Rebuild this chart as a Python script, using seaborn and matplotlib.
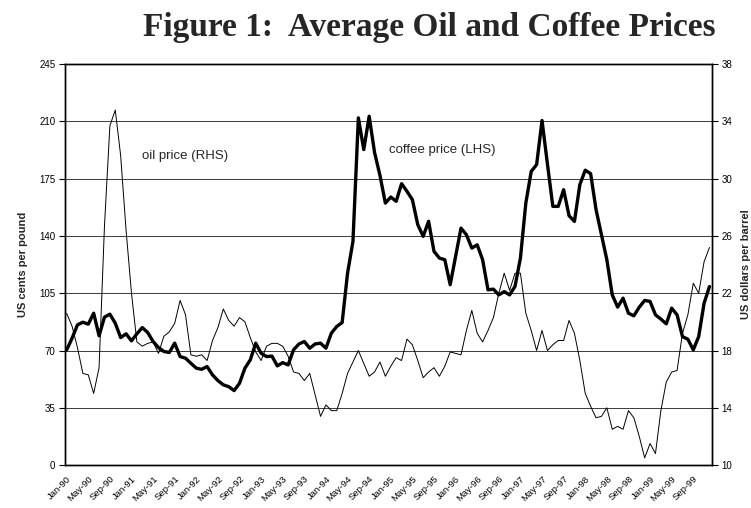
import numpy as np
import pandas as pd
import seaborn as sns
import matplotlib.pyplot as plt


# monthly series, Jan-90 .. Dec-99
months = pd.date_range('1990-01-01', periods=120, freq='MS')

# coffee price, US cents per pound (LHS)
coffee = [
    70.4, 77.5, 85.7, 87.3, 86.1, 92.8, 79.0, 90.4, 92.2, 86.7,
    77.9, 80.2, 75.9, 80.2, 84.0, 81.0, 75.5, 71.8, 69.4, 68.8,
    74.5, 66.3, 65.3, 62.2, 59.2, 58.5, 60.2, 55.1, 51.6, 49.0,
    47.9, 45.5, 50.0, 59.2, 64.3, 74.5, 68.3, 66.3, 66.6, 60.6,
    62.6, 61.2, 70.4, 74.0, 75.5, 71.4, 74.0, 74.5, 71.4, 80.6,
    84.7, 87.1, 117.3, 136.7, 212.2, 192.8, 213.2, 191.0, 177.0, 160.1,
    163.8, 161.2, 172.0, 167.3, 162.2, 146.9, 139.8, 149.0, 130.6, 126.5,
    125.5, 110.2, 127.5, 144.8, 140.8, 132.6, 134.6, 125.5, 107.1, 107.5,
    104.0, 106.0, 104.0, 109.2, 126.5, 160.1, 179.5, 183.6, 210.6, 184.0,
    158.1, 158.1, 168.3, 152.4, 148.9, 171.4, 180.2, 178.1, 156.1, 140.8,
    125.5, 104.0, 96.5, 102.0, 92.8, 91.2, 96.5, 100.6, 100.0, 91.8,
    89.2, 86.3, 95.9, 91.8, 78.5, 76.9, 70.4, 78.5, 98.9, 109.1,
]

# oil price, US dollars per barrel (RHS)
oil = [
    20.6, 19.7, 18.2, 16.4, 16.3, 15.0, 16.8, 26.7, 33.7, 34.8,
    31.6, 26.4, 22.0, 18.6, 18.3, 18.5, 18.6, 17.8, 19.0, 19.3,
    19.9, 21.5, 20.5, 17.7, 17.6, 17.7, 17.3, 18.7, 19.6, 20.9,
    20.1, 19.7, 20.3, 20.0, 18.9, 17.9, 17.3, 18.3, 18.5, 18.5,
    18.3, 17.6, 16.5, 16.4, 15.9, 16.4, 14.9, 13.4, 14.2, 13.8,
    13.8, 15.0, 16.4, 17.2, 18.0, 17.1, 16.2, 16.5, 17.2, 16.2,
    16.9, 17.5, 17.3, 18.8, 18.4, 17.3, 16.1, 16.5, 16.8, 16.2,
    16.9, 17.9, 17.8, 17.7, 19.4, 20.8, 19.2, 18.6, 19.4, 20.3,
    22.0, 23.4, 22.2, 23.4, 23.4, 20.6, 19.4, 18.0, 19.4, 18.0,
    18.4, 18.7, 18.7, 20.1, 19.2, 17.3, 15.0, 14.1, 13.3, 13.4,
    14.0, 12.5, 12.7, 12.5, 13.8, 13.3, 12.0, 10.5, 11.5, 10.8,
    13.8, 15.8, 16.5, 16.6, 19.2, 20.5, 22.7, 22.0, 24.2, 25.2,
]

tick_labels = [m.strftime('%b-%y') for m in months[::4]]

df = pd.DataFrame({'month': np.arange(len(months)), 'coffee': coffee, 'oil': oil})

sns.set_style('white')
plt.rcParams['font.family'] = ['Liberation Sans', 'DejaVu Sans']

fig = plt.figure(figsize=(7.51, 5.08), dpi=100)
ax = fig.add_axes([0.0866, 0.0846, 0.861, 0.789])
ax2 = ax.twinx()

sns.lineplot(data=df, x='month', y='coffee', ax=ax, color='black', linewidth=2.4)
sns.lineplot(data=df, x='month', y='oil', ax=ax2, color='black', linewidth=0.7)

ax.set_xlim(-0.3, 119.4)
ax.set_ylim(0, 245)
ax.set_yticks(range(0, 246, 35))
ax2.set_ylim(10, 38)
ax2.set_yticks(range(10, 39, 4))

ax.set_xticks(range(0, 120, 4))
ax.set_xticklabels(tick_labels, rotation=45, ha='right', rotation_mode='anchor', fontsize=6.8)
ax.set_xticks(range(120), minor=True)
ax.tick_params(axis='x', which='both', direction='inout', length=5, width=0.8, colors='black', pad=4)
ax.tick_params(axis='y', direction='out', length=4, width=0.8, labelsize=7, colors='black', pad=3)
ax2.tick_params(axis='y', direction='out', length=4, width=0.8, labelsize=7, colors='black', pad=3)

ax.grid(axis='y', color='#3a3a3a', linewidth=0.7)
ax.set_axisbelow(True)
for a in (ax, ax2):
    for s in a.spines.values():
        s.set_color('black')
        s.set_linewidth(1.0)

ax.set_xlabel('')
ax.set_ylabel('US cents per pound', fontweight='bold', fontsize=8, labelpad=8)
ax2.set_ylabel('US dollars per barrel', fontweight='bold', fontsize=8, rotation=90, labelpad=6)

ax.text(13.9, 189, 'oil price (RHS)', fontsize=9.5, va='center')
ax.text(59.7, 192.4, 'coffee price (LHS)', fontsize=9.5, va='center')

fig.text(0.571, 0.945, 'Figure 1:  Average Oil and Coffee Prices', ha='center', va='center',
         fontsize=24, fontweight='bold', family='Liberation Serif')

plt.savefig('out.png', dpi=100)
